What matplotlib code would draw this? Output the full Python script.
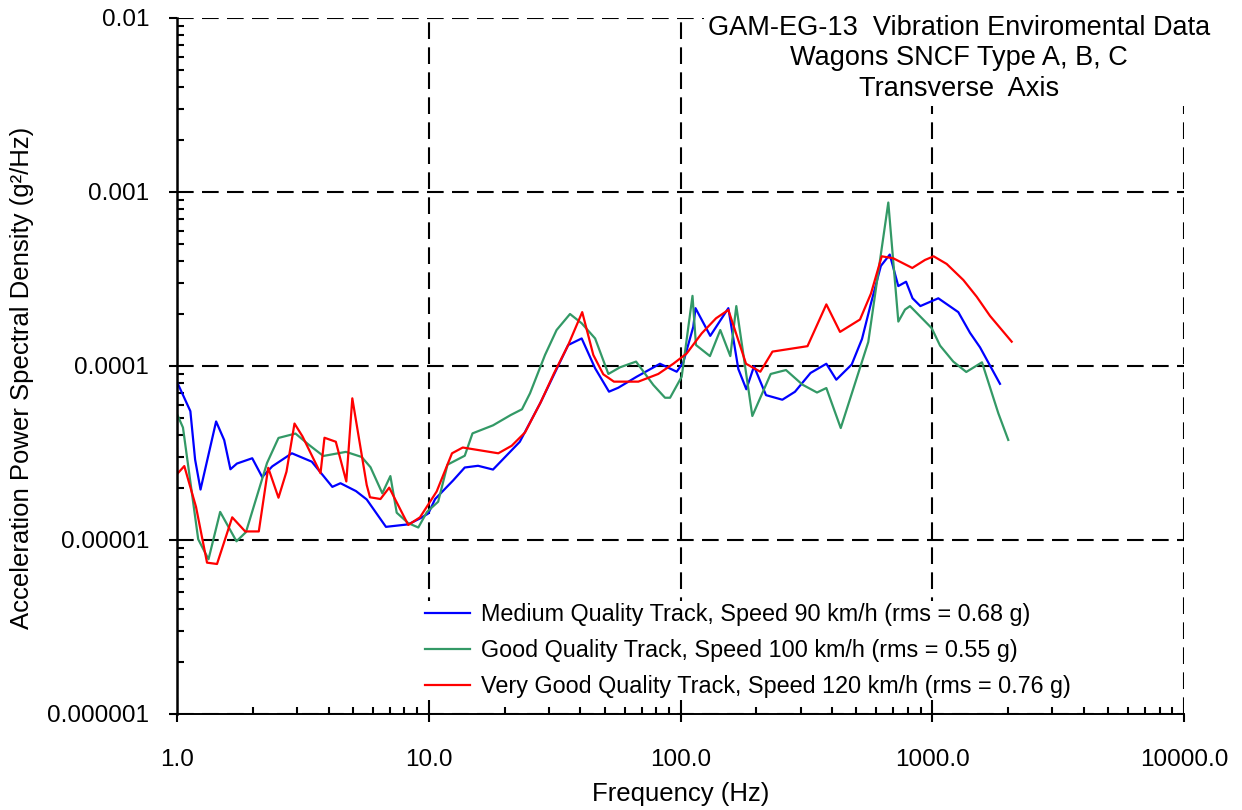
import numpy as np
import matplotlib.pyplot as plt
from matplotlib.ticker import FixedLocator, FixedFormatter, LogLocator, NullFormatter

plt.rcParams['font.family'] = ['Liberation Sans', 'DejaVu Sans']

# Medium quality track, 90 km/h
freq_med = [1.0, 1.13, 1.18, 1.24, 1.43, 1.54, 1.63, 1.73, 1.99, 2.18,
            2.39, 2.86, 3.43, 4.14, 4.46, 5.14, 5.67, 6.76, 8.29, 9.23,
            9.96, 10.6, 12.5, 13.9, 15.7, 18.0, 23.0, 27.7, 35.8, 40.5,
            45.8, 52.0, 56.6, 67.0, 82.9, 96.6, 102.6, 112.4, 114.7, 131.3,
            154.9, 169.7, 182.6, 195.9, 218.6, 253.8, 284.9, 328.5, 379.6, 415.8,
            478.6, 526, 570, 625, 678, 733, 787, 835, 897, 1057,
            1269, 1413, 1548, 1858]
psd_med = [8.1e-5, 5.5e-5, 2.9e-5, 1.95e-5, 4.8e-5, 3.75e-5, 2.55e-5, 2.75e-5, 2.95e-5, 2.3e-5,
           2.65e-5, 3.15e-5, 2.82e-5, 2.02e-5, 2.12e-5, 1.91e-5, 1.71e-5, 1.19e-5, 1.23e-5, 1.33e-5,
           1.42e-5, 1.72e-5, 2.2e-5, 2.61e-5, 2.67e-5, 2.54e-5, 3.67e-5, 6.1e-5, 1.32e-4, 1.44e-4,
           9.7e-5, 7.12e-5, 7.5e-5, 8.68e-5, 1.03e-4, 9.27e-5, 1.05e-4, 1.68e-4, 2.15e-4, 1.49e-4,
           2.15e-4, 9.61e-5, 7.35e-5, 9.96e-5, 6.8e-5, 6.4e-5, 7.11e-5, 9.12e-5, 1.03e-4, 8.34e-5,
           1.02e-4, 1.43e-4, 2.27e-4, 3.76e-4, 4.37e-4, 2.88e-4, 3.05e-4, 2.45e-4, 2.21e-4, 2.45e-4,
           2.04e-4, 1.55e-4, 1.28e-4, 7.9e-5]

# Good quality track, 100 km/h
freq_good = [1.0, 1.056, 1.214, 1.334, 1.484, 1.723, 1.879, 2.278, 2.53, 2.956,
             3.344, 3.812, 4.69, 5.415, 5.87, 6.54, 7.04, 7.46, 8.29, 9.09,
             9.84, 10.9, 11.87, 13.9, 14.92, 18.0, 21.18, 23.46, 25.25, 28.96,
             32.2, 36.4, 40.5, 45.8, 51.7, 57.5, 66.6, 78.0, 86.8, 90.9,
             101.1, 111.6, 115.2, 130.9, 143.9, 157.7, 166.6, 192.9, 228.2, 262.4,
             305.2, 348.5, 379.6, 433, 557, 669, 733.3, 779.5, 815.9, 995,
             1074, 1212, 1365, 1576, 1830, 2004]
psd_good = [5.3e-5, 4.43e-5, 1.01e-5, 7.75e-6, 1.45e-5, 9.83e-6, 1.11e-5, 2.77e-5, 3.86e-5, 4.09e-5,
            3.52e-5, 3.04e-5, 3.21e-5, 3.0e-5, 2.62e-5, 1.855e-5, 2.33e-5, 1.435e-5, 1.25e-5, 1.18e-5,
            1.45e-5, 1.66e-5, 2.71e-5, 3.05e-5, 4.1e-5, 4.56e-5, 5.23e-5, 5.64e-5, 6.97e-5, 1.157e-4,
            1.61e-4, 1.99e-4, 1.76e-4, 1.44e-4, 9.0e-5, 9.83e-5, 1.06e-4, 7.78e-5, 6.57e-5, 6.57e-5,
            8.68e-5, 2.53e-4, 1.32e-4, 1.14e-4, 1.61e-4, 1.14e-4, 2.21e-4, 5.16e-5, 9.0e-5, 9.48e-5,
            7.81e-5, 7.04e-5, 7.47e-5, 4.4e-5, 1.374e-4, 8.7e-4, 1.8e-4, 2.11e-4, 2.21e-4, 1.65e-4,
            1.31e-4, 1.06e-4, 9.24e-5, 1.05e-4, 5.35e-5, 3.76e-5]

# Very good quality track, 120 km/h
freq_vgood = [1.0, 1.069, 1.19, 1.316, 1.442, 1.657, 1.866, 2.113, 2.303, 2.53,
              2.722, 2.929, 3.151, 3.716, 3.853, 4.274, 4.705, 4.97, 5.67, 5.843,
              6.43, 6.965, 8.29, 9.23, 10.75, 12.37, 13.65, 18.89, 21.35, 24.12,
              27.87, 31.45, 35.8, 40.7, 45.05, 49.35, 54.4, 68.0, 81.6, 93.6,
              105.8, 121.4, 138.4, 154.9, 182.1, 207.5, 231.9, 319.5, 379.6, 430.2,
              516.4, 571, 630, 700, 833, 936, 1013, 1141, 1329, 1502,
              1696, 2068]
psd_vgood = [2.39e-5, 2.66e-5, 1.55e-5, 7.41e-6, 7.28e-6, 1.35e-5, 1.12e-5, 1.12e-5, 2.6e-5, 1.75e-5,
             2.47e-5, 4.67e-5, 3.94e-5, 2.42e-5, 3.87e-5, 3.67e-5, 2.17e-5, 6.52e-5, 2.07e-5, 1.76e-5,
             1.72e-5, 2.0e-5, 1.22e-5, 1.35e-5, 1.9e-5, 3.15e-5, 3.4e-5, 3.15e-5, 3.48e-5, 4.15e-5,
             6.21e-5, 9.08e-5, 1.32e-4, 2.04e-4, 1.157e-4, 8.96e-5, 8.13e-5, 8.13e-5, 9.0e-5, 1.03e-4,
             1.18e-4, 1.54e-4, 1.88e-4, 2.1e-4, 1.03e-4, 9.27e-5, 1.21e-4, 1.3e-4, 2.26e-4, 1.57e-4,
             1.85e-4, 2.61e-4, 4.27e-4, 4.16e-4, 3.66e-4, 4.07e-4, 4.27e-4, 3.86e-4, 3.12e-4, 2.5e-4,
             1.94e-4, 1.38e-4]

labels = ['Medium Quality Track, Speed 90 km/h (rms = 0.68 g)',
          'Good Quality Track, Speed 100 km/h (rms = 0.55 g)',
          'Very Good Quality Track, Speed 120 km/h (rms = 0.76 g)']
colors = ['#0000FF', '#339966', '#FF0000']

x_ticks = [1, 10, 100, 1000, 10000]
x_ticklabels = ['1.0', '10.0', '100.0', '1000.0', '10000.0']
y_ticks = [1e-6, 1e-5, 1e-4, 1e-3, 1e-2]
y_ticklabels = ['0.000001', '0.00001', '0.0001', '0.001', '0.01']

fig = plt.figure(figsize=(12.42, 8.10), dpi=100)
ax = fig.add_axes([177 / 1242, 1 - 714 / 810, 1007 / 1242, 696 / 810])

series = [(freq_med, psd_med), (freq_good, psd_good), (freq_vgood, psd_vgood)]
for (f, p), lab, col in zip(series, labels, colors):
    ax.plot(f, p, color=col, linewidth=1.6, label=lab)

ax.set_xscale('log')
ax.set_yscale('log')
ax.set_xlim(1, 10000)
ax.set_ylim(1e-6, 1e-2)

ax.xaxis.set_major_locator(FixedLocator(x_ticks))
ax.xaxis.set_major_formatter(FixedFormatter(x_ticklabels))
ax.yaxis.set_major_locator(FixedLocator(y_ticks))
ax.yaxis.set_major_formatter(FixedFormatter(y_ticklabels))
for axis in (ax.xaxis, ax.yaxis):
    axis.set_minor_locator(LogLocator(base=10, subs=np.arange(2, 10), numticks=20))
    axis.set_minor_formatter(NullFormatter())

ax.tick_params(which='major', direction='out', length=6, width=1.5, pad=14,
               labelsize=17.5, colors='black')
ax.tick_params(axis='x', which='major', pad=19)
ax.tick_params(which='minor', direction='in', length=5, width=1.5)

ax.spines['top'].set_visible(False)
ax.spines['right'].set_visible(False)
ax.spines['left'].set_linewidth(1.8)
ax.spines['bottom'].set_linewidth(1.4)

ax.grid(which='major', color='black', linestyle=(0, (8, 4)), linewidth=1.5)
ax.set_axisbelow(True)

ax.set_xlabel('Frequency (Hz)', fontsize=18.5)
ax.set_ylabel('Acceleration Power Spectral Density (g²/Hz)', fontsize=18.5)
ax.xaxis.set_label_coords(0.5, -0.097)
ax.yaxis.set_label_coords(-0.154, 0.483)
ax.yaxis.label.set_va('center')

leg = ax.legend(loc='upper left', bbox_to_anchor=(0.2443, 0.163), frameon=True,
                fontsize=16.8, handlelength=1.93, handletextpad=0.47,
                labelspacing=0.56, borderpad=0.1, borderaxespad=0,
                fancybox=False, framealpha=1)
leg.get_frame().set_facecolor('white')
leg.get_frame().set_edgecolor('none')

fig.text(959 / 1242, 1 - 15 / 810,
         'GAM-EG-13  Vibration Enviromental Data\nWagons SNCF Type A, B, C\nTransverse  Axis',
         ha='center', va='top', fontsize=19.5, linespacing=1.22,
         bbox=dict(facecolor='white', edgecolor='none', pad=3))

fig.savefig('out.png', dpi=100)
